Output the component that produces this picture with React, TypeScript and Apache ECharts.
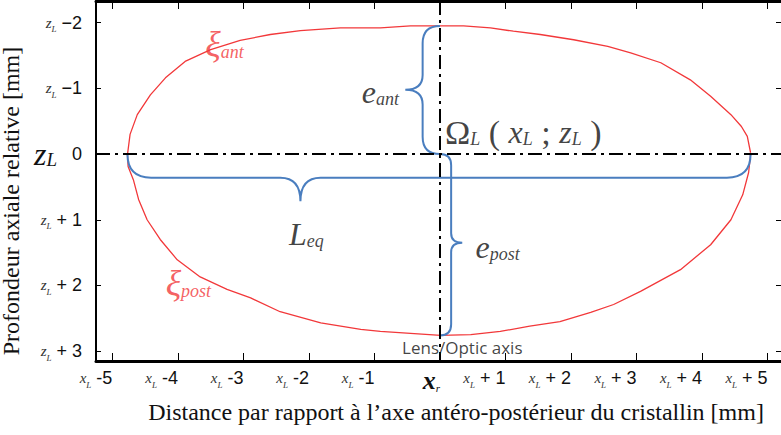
import { useEffect, useRef } from "react";
import * as echarts from "echarts";

// Lens contour, anterior surface (xi_ant), lateral position x [mm] vs relative depth z [mm]
const anteriorX = [-4.77, -4.73, -4.62, -4.42, -4.19, -3.89, -3.5, -3.05, -2.59, -2.13, -1.52, -0.91, -0.45, 0.01, 0.36, 0.77, 1.12, 1.53, 2.04, 2.56, 2.91, 3.37, 3.82, 4.13, 4.44, 4.6, 4.69, 4.74];
const anteriorZ = [0.01, -0.3, -0.6, -0.9, -1.16, -1.41, -1.59, -1.73, -1.82, -1.88, -1.92, -1.92, -1.95, -1.95, -1.95, -1.92, -1.87, -1.82, -1.74, -1.64, -1.54, -1.39, -1.13, -0.88, -0.6, -0.42, -0.27, -0.02];

// Lens contour, posterior surface (xi_post)
const posteriorX = [-4.77, -4.76, -4.68, -4.6, -4.47, -4.27, -4.01, -3.66, -3.25, -2.89, -2.44, -1.82, -1.21, -0.91, -0.45, 0.01, 0.47, 0.92, 1.37, 1.83, 2.3, 2.65, 3.06, 3.67, 4.13, 4.44, 4.62, 4.71, 4.74];
const posteriorZ = [0.01, 0.19, 0.39, 0.69, 1.0, 1.3, 1.61, 1.87, 2.06, 2.19, 2.4, 2.57, 2.67, 2.7, 2.73, 2.76, 2.75, 2.7, 2.62, 2.55, 2.41, 2.29, 2.09, 1.76, 1.38, 1.0, 0.62, 0.28, 0.01];

// Tick positions and their label suffixes
const xTicks = [-5, -4, -3, -2, -1, 0, 1, 2, 3, 4, 5];
const xTickSuffix = ["-5", "-4", "-3", "-2", "-1", "", "+ 1", "+ 2", "+ 3", "+ 4", "+ 5"];
const zTicks = [-2, -1, 0, 1, 2, 3];
const zTickSuffix = ["\u22122", "\u22121", "0", "+ 1", "+ 2", "+ 3"];

// Braces: [fromX, fromZ, toX, toZ, tipX, tipZ]
const braceLeq = [-4.77, 0, 4.74, 0, -2.13, 0.72];
const braceEant = [0, -1.95, 0, 0, -0.53, -0.98];
const braceEpost = [0, 0, 0, 2.76, 0.34, 1.35];

// Annotation anchors (label centres) and texts
const noteX = [-3.29, -3.84, -0.91, 1.27, -2.04, 0.88, 0.34];
const noteZ = [-1.68, 1.96, -0.95, -0.33, 1.21, 1.41, 2.95];
const noteText = [
  "{xi|\u03be}{rs|ant}",
  "{xi|\u03be}{rs|post}",
  "{m|e}{s|ant}",
  "{O|\u03a9}{s|L}{p| ( }{m|x}{s|L}{p| ; }{m|z}{s|L}{p| )}",
  "{m|L}{s|eq}",
  "{m|e}{s|post}",
  "{t|Lens/Optic axis}",
];

const SERIF = "'Liberation Serif', 'Times New Roman', serif";
const SANS = "'Liberation Sans', Arial, sans-serif";
const RED = "#f2383a";
const BLUE = "#4a7ebf";

function bracePath(params: any, api: any) {
  const p0 = api.coord([api.value(0), api.value(1)]);
  const p1 = api.coord([api.value(2), api.value(3)]);
  const t = api.coord([api.value(4), api.value(5)]);
  const dx = p1[0] - p0[0];
  const dy = p1[1] - p0[1];
  const len = Math.hypot(dx, dy);
  const u = [dx / len, dy / len];
  const rel = [t[0] - p0[0], t[1] - p0[1]];
  const s = rel[0] * u[0] + rel[1] * u[1];
  const perp = [rel[0] - u[0] * s, rel[1] - u[1] * s];
  const depth = Math.hypot(perp[0], perp[1]);
  const n = [perp[0] / depth, perp[1] / depth];
  const bar = depth / 2;
  const r = bar;
  const r2 = bar * 0.85;
  const pt = (along: number, off: number) =>
    `${p0[0] + u[0] * along + n[0] * off} ${p0[1] + u[1] * along + n[1] * off}`;
  const d = [
    `M ${p0[0]} ${p0[1]}`,
    `Q ${pt(0, bar)} ${pt(r, bar)}`,
    `L ${pt(s - r2, bar)}`,
    `Q ${pt(s, bar)} ${t[0]} ${t[1]}`,
    `Q ${pt(s, bar)} ${pt(s + r2, bar)}`,
    `L ${pt(len - r, bar)}`,
    `Q ${pt(len, bar)} ${p1[0]} ${p1[1]}`,
  ].join(" ");
  return {
    type: "path",
    shape: { pathData: d },
    style: { stroke: BLUE, fill: "none", lineWidth: 2 },
  };
}

const tickRich = {
  v: { fontFamily: SERIF, fontStyle: "italic", fontSize: 15, color: "#333", lineHeight: 22, verticalAlign: "middle" },
  sub: { fontFamily: SERIF, fontStyle: "italic", fontSize: 9, color: "#333", lineHeight: 10, verticalAlign: "bottom" },
  n: { fontFamily: SANS, fontSize: 18, color: "#111", lineHeight: 22, verticalAlign: "middle" },
  bv: { fontFamily: SERIF, fontStyle: "italic", fontSize: 32, color: "#111", lineHeight: 30, verticalAlign: "middle" },
  bsub: { fontFamily: SERIF, fontStyle: "italic", fontSize: 19, color: "#111", lineHeight: 16, verticalAlign: "bottom" },
  xr: { fontFamily: SERIF, fontStyle: "italic", fontWeight: "bold", fontSize: 26, color: "#111", lineHeight: 26, verticalAlign: "middle" },
  xrs: { fontFamily: SERIF, fontStyle: "italic", fontSize: 11, color: "#111", lineHeight: 12, verticalAlign: "bottom" },
};

export default function App() {
  const ref = useRef<HTMLDivElement>(null);

  useEffect(() => {
    if (!ref.current) return;
    const chart = echarts.init(ref.current, undefined, { renderer: "svg" });

    const xFormatter = (v: number) => {
      const i = xTicks.indexOf(Math.round(v));
      if (v === 0) return "{xr|x}{xrs|r}";
      return `{v|x}{sub|L}{n| ${xTickSuffix[i]}}`;
    };
    const zFormatter = (v: number) => {
      const i = zTicks.indexOf(Math.round(v));
      if (v === 0) return `{bv|z}{bsub|L}{n|   ${zTickSuffix[i]}}`;
      return `{v|z}{sub|L}{n| ${zTickSuffix[i]}}`;
    };

    const xBase = {
      type: "value" as const,
      min: -5.25,
      max: 5.25,
      splitLine: { show: false },
    };
    const zBase = {
      type: "value" as const,
      min: -2.33,
      max: 3.15,
      inverse: true,
      splitLine: { show: false },
    };

    chart.setOption({
      animation: false,
      backgroundColor: "#ffffff",
      grid: { left: 96, right: -3, top: 1, bottom: 74, outerBoundsMode: "none", containLabel: false },
      xAxis: [
        {
          ...xBase,
          position: "bottom",
          name: "Distance par rapport \u00e0 l\u2019axe ant\u00e9ro-post\u00e9rieur du cristallin [mm]",
          nameLocation: "middle",
          nameGap: 39,
          nameTextStyle: { fontFamily: SERIF, fontSize: 24, color: "#111", padding: [0, 0, 0, 32], verticalAlign: "top" },
          axisLine: { show: true, onZero: false, lineStyle: { color: "#000", width: 3 } },
          axisTick: { show: true, inside: true, length: 8, lineStyle: { color: "#000", width: 1 }, customValues: xTicks },
          axisLabel: { show: true, customValues: xTicks, margin: 6, align: "right", formatter: xFormatter, rich: tickRich },
        },
        {
          ...xBase,
          position: "top",
          axisLine: { show: true, onZero: false, lineStyle: { color: "#000", width: 3 } },
          axisTick: { show: true, inside: true, length: 8, lineStyle: { color: "#000", width: 1 }, customValues: xTicks },
          axisLabel: { show: false },
        },
      ],
      yAxis: [
        {
          ...zBase,
          position: "left",
          name: "Profondeur axiale relative [mm]",
          nameLocation: "middle",
          nameGap: 53,
          nameTextStyle: { fontFamily: SERIF, fontSize: 24, color: "#111", padding: [0, 40, 0, 0] },
          axisLine: { show: true, onZero: false, lineStyle: { color: "#000", width: 2 } },
          axisTick: { show: true, inside: true, length: 5, lineStyle: { color: "#000", width: 1 }, customValues: zTicks },
          axisLabel: { show: true, customValues: zTicks, margin: 14, formatter: zFormatter, rich: tickRich },
        },
        {
          ...zBase,
          position: "right",
          axisLine: { show: true, onZero: false, lineStyle: { color: "#000", width: 2 } },
          axisTick: { show: true, inside: true, length: 8, lineStyle: { color: "#000", width: 1 }, customValues: zTicks },
          axisLabel: { show: false },
        },
      ],
      series: [
        {
          type: "line",
          name: "anterior",
          data: anteriorX.map((x, i) => [x, anteriorZ[i]]),
          smooth: false,
          showSymbol: false,
          symbol: "none",
          lineStyle: { color: RED, width: 1.3 },
          z: 3,
          markLine: {
            silent: true,
            symbol: ["none", "none"],
            label: { show: false },
            lineStyle: { color: "#000", width: 2, type: [14, 5, 3, 5] },
            data: [{ xAxis: 0 }, { yAxis: 0 }],
          },
        },
        {
          type: "line",
          name: "posterior",
          data: posteriorX.map((x, i) => [x, posteriorZ[i]]),
          smooth: false,
          showSymbol: false,
          symbol: "none",
          lineStyle: { color: RED, width: 1.3 },
          z: 3,
        },
        {
          type: "custom",
          name: "braces",
          coordinateSystem: "cartesian2d",
          encode: { x: [0, 2, 4], y: [1, 3, 5] },
          data: [braceLeq, braceEant, braceEpost],
          renderItem: bracePath,
          clip: false,
          z: 4,
        },
        {
          type: "scatter",
          name: "notes",
          symbolSize: 1,
          itemStyle: { color: "rgba(0,0,0,0)" },
          z: 5,
          data: noteX.map((x, i) => ({
            value: [x, noteZ[i]],
            label: {
              show: true,
              position: "inside",
              formatter: noteText[i],
              rich: {
                xi: { fontFamily: SERIF, fontStyle: "italic", fontSize: 36, color: RED, lineHeight: 34, verticalAlign: "middle" },
                rs: { fontFamily: SERIF, fontStyle: "italic", fontSize: 18, color: RED, lineHeight: 14, verticalAlign: "bottom" },
                m: { fontFamily: SERIF, fontStyle: "italic", fontSize: 32, color: "#111", lineHeight: 32, verticalAlign: "middle" },
                s: { fontFamily: SERIF, fontStyle: "italic", fontSize: 18, color: "#111", lineHeight: 14, verticalAlign: "bottom" },
                O: { fontFamily: SERIF, fontSize: 34, color: "#111", lineHeight: 32, verticalAlign: "middle" },
                p: { fontFamily: SERIF, fontSize: 34, color: "#111", lineHeight: 32, verticalAlign: "middle" },
                t: { fontFamily: "'Open Sans', sans-serif", fontSize: 17, color: "#111", lineHeight: 18, verticalAlign: "middle" },
              },
            },
          })),
        },
      ],
    });

    return () => chart.dispose();
  }, []);

  return (
    <div
      ref={ref}
      style={{ position: "fixed", left: 0, top: 0, width: 781, height: 435, background: "#fff" }}
    />
  );
}
